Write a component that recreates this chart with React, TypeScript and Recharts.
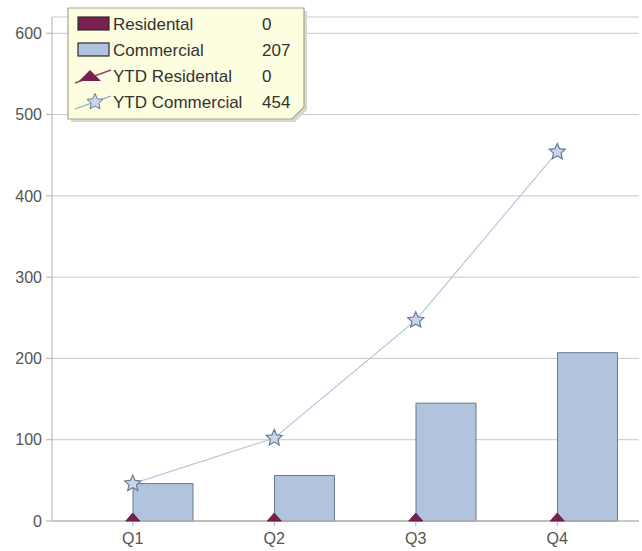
import { ComposedChart, Bar, Line, XAxis, YAxis, CartesianGrid, Legend } from "recharts"

const quarters = ["Q1", "Q2", "Q3", "Q4"]
const residental = [0, 0, 0, 0]
const commercial = [46, 56, 145, 207]
const ytdResidental = [0, 0, 0, 0]
const ytdCommercial = [46, 102, 247, 454]
const yTicks = [0, 100, 200, 300, 400, 500, 600]

const data = quarters.map((q, i) => ({
    quarter: q,
    residental: residental[i],
    commercial: commercial[i],
    ytdResidental: ytdResidental[i],
    ytdCommercial: ytdCommercial[i],
}))

const font = "'Liberation Sans', Arial, sans-serif"
const maroon = "#7a1f50"
const steel = "#b0c4de"

function starPoints(cx: number, cy: number, R: number, r: number) {
    const pts: string[] = []
    for (let i = 0; i < 10; i++) {
        const rad = i % 2 === 0 ? R : r
        const a = -Math.PI / 2 + (i * Math.PI) / 5
        pts.push(`${cx + rad * Math.cos(a)},${cy + rad * Math.sin(a)}`)
    }
    return pts.join(" ")
}

const Star = (props: any) => {
    const { cx, cy } = props
    if (cx == null || cy == null) return null
    return <polygon points={starPoints(cx, cy, 8.5, 4)} fill="#c9d6ea" stroke="#6a7b96" strokeWidth={1.2} />
}

const Triangle = (props: any) => {
    const { cx, cy } = props
    if (cx == null || cy == null) return null
    return <polygon points={`${cx - 7},${cy} ${cx + 7},${cy} ${cx},${cy - 8}`} fill={maroon} stroke="#5a1538" strokeWidth={0.8} />
}

function LegendBox() {
    const last = (a: number[]) => a[a.length - 1]
    const rows = [
        { name: "Residental", value: last(residental), kind: "bar", color: maroon },
        { name: "Commercial", value: last(commercial), kind: "bar", color: steel },
        { name: "YTD Residental", value: last(ytdResidental), kind: "tri", color: maroon },
        { name: "YTD Commercial", value: last(ytdCommercial), kind: "star", color: steel },
    ]
    return (
        <svg width={246} height={120} style={{ display: "block", fontFamily: font }}>
            <polygon points="5,5 241,5 241,104 229,116 5,116" fill="#d8d8d0" />
            <polygon points="2,2 238,2 238,101 226,113 2,113" fill="#fdfddf" stroke="#a9a58a" strokeWidth={1.2} />
            {rows.map((r, i) => {
                const y = 18 + i * 26
                return (
                    <g key={r.name}>
                        {r.kind === "bar" && (
                            <rect x={12} y={y - 7} width={31} height={13} fill={r.color} stroke="#2a2a2a" strokeWidth={1.2} />
                        )}
                        {r.kind === "tri" && (
                            <g>
                                <line x1={9} y1={y + 7} x2={45} y2={y - 6} stroke="#8a4a6a" strokeWidth={1.4} />
                                <polygon points={`${13},${y + 5} ${35},${y + 5} ${24},${y - 6}`} fill={maroon} />
                            </g>
                        )}
                        {r.kind === "star" && (
                            <g>
                                <line x1={9} y1={y + 7} x2={45} y2={y - 6} stroke="#8fa2bf" strokeWidth={1.3} />
                                <polygon points={starPoints(29, y, 8.5, 4)} fill="#c9d6ea" stroke="#6a7b96" strokeWidth={1} />
                            </g>
                        )}
                        <text x={47} y={y} dy="0.36em" fontSize={17} fill="#333">{r.name}</text>
                        <text x={196} y={y} dy="0.36em" fontSize={17} fill="#333">{r.value}</text>
                    </g>
                )
            })}
        </svg>
    )
}

export default function App() {
    return (
        <div style={{ position: "fixed", left: 0, top: 0, width: 642, height: 551, background: "#fff" }}>
            <ComposedChart
                width={642}
                height={551}
                data={data}
                margin={{ top: 17, right: 3, bottom: 0, left: 0 }}
                barSize={60}
                barGap={0}
                style={{ fontFamily: font }}
            >
                <CartesianGrid vertical={false} stroke="#c8c8c8" />
                <XAxis
                    dataKey="quarter"
                    height={30}
                    padding={{ left: 10, right: 11 }}
                    stroke="#b0b0b0"
                    tickSize={5}
                    tickMargin={7}
                    tick={{ fill: "#555", fontSize: 16, fontFamily: font }}
                />
                <XAxis xAxisId="top" orientation="top" dataKey="quarter" height={0} tick={false} tickLine={false} stroke="#c8c8c8" />
                <YAxis
                    width={52}
                    domain={[0, 620]}
                    ticks={yTicks}
                    stroke="#b0b0b0"
                    tickSize={6}
                    tickMargin={4}
                    tick={{ fill: "#555", fontSize: 16, fontFamily: font }}
                />
                <YAxis yAxisId="right" orientation="right" width={0} tick={false} tickLine={false} stroke="#c8c8c8" />
                <Bar dataKey="residental" name="Residental" fill={maroon} stroke="#4a1030" isAnimationActive={false} />
                <Bar dataKey="commercial" name="Commercial" fill={steel} stroke="#6b778a" strokeWidth={1} isAnimationActive={false} />
                <Line
                    dataKey="ytdResidental"
                    name="YTD Residental"
                    stroke="#b0b0b0"
                    strokeWidth={1}
                    dot={<Triangle />}
                    activeDot={false}
                    isAnimationActive={false}
                />
                <Line
                    dataKey="ytdCommercial"
                    name="YTD Commercial"
                    stroke="#b9c8de"
                    strokeWidth={1.2}
                    dot={<Star />}
                    activeDot={false}
                    isAnimationActive={false}
                />
                <Legend
                    layout="vertical"
                    align="center"
                    verticalAlign="middle"
                    content={() => <LegendBox />}
                    wrapperStyle={{ left: 66, top: 6, width: 246, height: 120 }}
                />
            </ComposedChart>
        </div>
    )
}
